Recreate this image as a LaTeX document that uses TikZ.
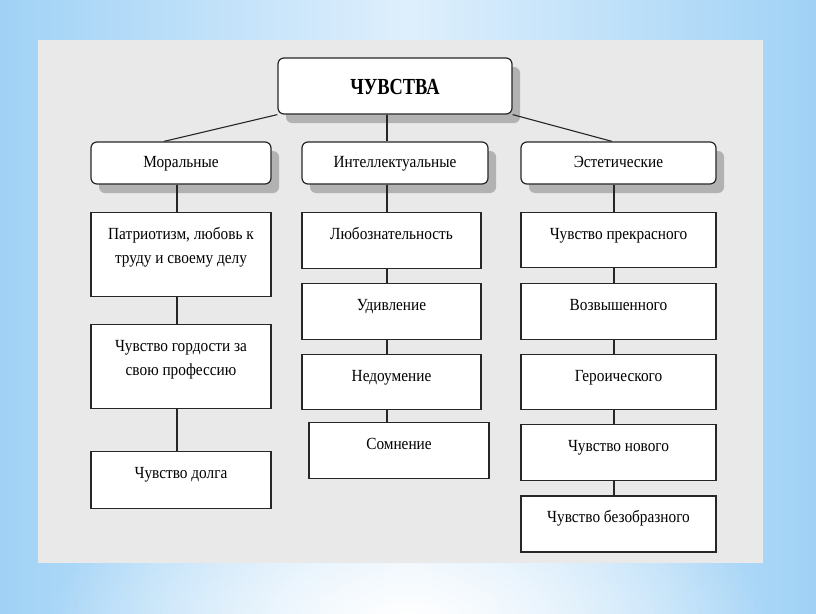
\documentclass[tikz,border=0pt]{standalone}
\usepackage{fontspec}
\setmainfont{Liberation Serif}[FakeStretch=0.9]
\newfontfamily\titlefont{Liberation Serif}[FakeStretch=0.8]
\usetikzlibrary{positioning,shadows,fadings}

\definecolor{skyedge}{RGB}{160,210,246}
\definecolor{skymid}{RGB}{222,239,252}
\definecolor{panelgray}{RGB}{233,233,233}
\tikzfading[name=glow, inner color=transparent!0, outer color=transparent!100]

\begin{document}
\begin{tikzpicture}[x=1pt, y=-1pt, node distance=14pt,
    every node/.style={font=\fontsize{17}{24}\selectfont},
    head/.style={draw=black!85, line width=1.2pt, fill=white, rounded corners=6pt,
        text height=12pt, text depth=4pt,
        drop shadow={shadow xshift=8pt, shadow yshift=-9pt, fill=gray!60, opacity=1}},
    leaf/.style={draw=black!85, line width=1.1pt, fill=white, anchor=north,
        inner xsep=4pt, inner ysep=0pt, text height=27pt, align=flush center},
    link/.style={draw=black!85, line width=1.1pt}]
        \useasboundingbox (0,0) rectangle (816,613);

        % Background
        \shade[left color=skyedge, right color=skyedge, middle color=skymid] (0,0) rectangle (816,613);
        \fill[white, path fading=glow] (50,470) rectangle (766,770);
        \fill[panelgray] (38,40) rectangle (763,563);

        % Column axes
        \coordinate (laxis) at (177,0);
        \coordinate (maxis) at (387,0);
        \coordinate (raxis) at (614,0);

        % Top
        \node[head, minimum width=234pt, minimum height=56pt, text height=16pt, text depth=0pt,
            font=\titlefont\bfseries\fontsize{23}{28}\selectfont] (root) at (395,86) {ЧУВСТВА};

        % Groups
        \node[head, minimum width=180pt, minimum height=42pt] (moral) at (181,163) {Моральные};
        \node[head, minimum width=186pt, minimum height=42pt] (intel) at (395,163) {Интеллектуальные};
        \node[head, minimum width=195pt, minimum height=42pt] (aesth) at (618.5,163) {Эстетические};

        % Moral column
        \node[leaf, text width=172pt, text depth=57pt] (patriot) at (181,212) {Патриотизм, любовь к\\труду и своему делу};
        \node[leaf, text width=172pt, text depth=57pt, below=27pt of patriot] (pride) {Чувство гордости за\\свою профессию};
        \node[leaf, text width=172pt, text depth=30pt, below=42pt of pride] (duty) {Чувство долга};

        % Intellectual column
        \node[leaf, text width=171pt, text depth=29pt] (curious) at (391.5,212) {Любознательность};
        \node[leaf, text width=171pt, text depth=29pt, below=of curious] (wonder) {Удивление};
        \node[leaf, text width=171pt, text depth=28pt, below=of wonder] (puzzle) {Недоумение};
        \node[leaf, text width=172pt, text depth=29pt, below=12pt of puzzle, xshift=7.5pt] (doubt) {Сомнение};

        % Aesthetic column
        \node[leaf, text width=187pt, text depth=28pt] (beauty) at (618.5,212) {Чувство прекрасного};
        \node[leaf, text width=187pt, text depth=29pt, below=15pt of beauty] (sublime) {Возвышенного};
        \node[leaf, text width=187pt, text depth=28pt, below=of sublime] (heroic) {Героического};
        \node[leaf, text width=187pt, text depth=29pt, below=of heroic] (novel) {Чувство нового};
        \node[leaf, text width=187pt, text depth=29pt, below=of novel] (ugly) {Чувство безобразного};

        % Connectors
        \draw[link] (root.south west) -- ([xshift=-17pt]moral.north);
        \draw[link] (root.south east) -- ([xshift=-6.5pt]aesth.north);
        \draw[link] (root.south -| maxis) -- (intel.north -| maxis);
        \foreach \a/\b in {moral/patriot, patriot/pride, pride/duty}
            \draw[link] (\a.south -| laxis) -- (\b.north -| laxis);
        \foreach \a/\b in {intel/curious, curious/wonder, wonder/puzzle, puzzle/doubt}
            \draw[link] (\a.south -| maxis) -- (\b.north -| maxis);
        \foreach \a/\b in {aesth/beauty, beauty/sublime, sublime/heroic, heroic/novel, novel/ugly}
            \draw[link] (\a.south -| raxis) -- (\b.north -| raxis);
    \end{tikzpicture}
\end{document}
